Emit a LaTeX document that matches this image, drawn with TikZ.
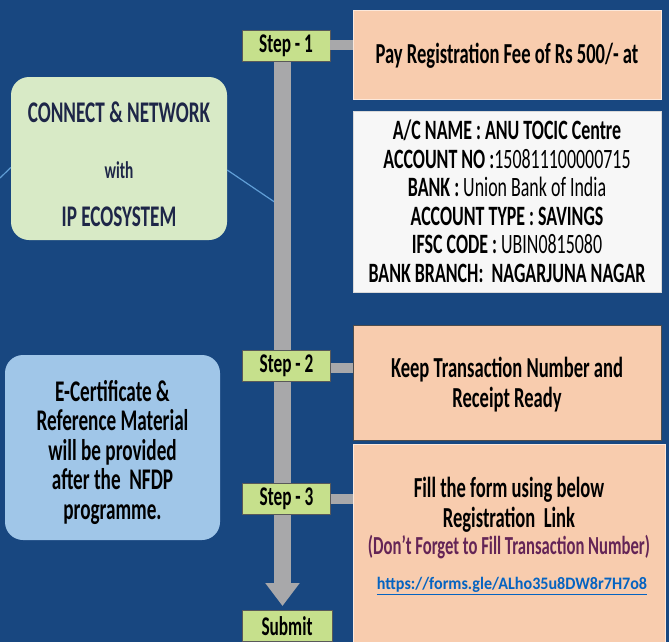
\documentclass[tikz,border=0pt]{standalone}
\usepackage{fontspec}
\setmainfont{Carlito}[FakeStretch=0.64]
\newfontfamily\linkfont{Carlito}[FakeStretch=0.92]
\usepackage{xcolor}
\usetikzlibrary{
    arrows.meta,
    positioning
}
\definecolor{bgblue}{RGB}{24,71,128}
\definecolor{stepgreen}{RGB}{198,224,140}
\definecolor{peach}{RGB}{248,204,174}
\definecolor{netgreen}{RGB}{216,234,198}
\definecolor{certblue}{RGB}{160,198,232}
\definecolor{bargray}{RGB}{168,168,170}
\definecolor{thinblue}{RGB}{96,158,214}
\definecolor{navytext}{RGB}{30,38,72}
\definecolor{notepurple}{RGB}{100,36,86}
\definecolor{linkblue}{RGB}{5,99,193}
\tikzset{stepbox/.style={draw=black!65, fill=stepgreen, minimum width=88pt, minimum height=31pt, inner sep=0pt, font=\fontsize{27}{27}\selectfont\bfseries}}
\tikzset{peachbox/.style={draw=white!55!peach, fill=peach, minimum width=308pt, inner sep=0pt, align=center}}
\tikzset{roundbox/.style={rounded corners=18pt, inner sep=0pt, align=center}}
\tikzset{stub/.style={draw=bargray, line width=10pt}}
\tikzset{thinlink/.style={draw=thinblue, line width=1.2pt}}

\begin{document}
\begin{tikzpicture}[x=1pt, y=-1pt]
                        \useasboundingbox (0,0) rectangle (669,642);
                        \clip (0,0) rectangle (669,642);
                        \fill[bgblue] (0,0) rectangle (669,642);

                        % right column
                        \node[peachbox, minimum height=89pt] (pay) at (507,54.5) {};
                        \node[font=\fontsize{29}{29}\selectfont\bfseries] (paytxt) at (507,56) {Pay Registration Fee of Rs 500/- at};
                        \node[draw=black!15, fill=white!97!black, minimum width=308pt, minimum height=181pt, inner sep=0pt, align=center,
                              font=\fontsize{28}{28.5}\selectfont] (acct) at (507,201.5)
                              {\textbf{A/C NAME : ANU TOCIC Centre}\\
                               \textbf{ACCOUNT NO :}150811100000715\\
                               \textbf{BANK :} Union Bank of India\\
                               \textbf{ACCOUNT TYPE : SAVINGS}\\
                               \textbf{IFSC CODE :} UBIN0815080\\
                               \textbf{BANK BRANCH:~ NAGARJUNA NAGAR}};
                        \node[peachbox, minimum height=216pt, minimum width=312pt] (form) at (509,552) {};
                        \node[peachbox, draw=black!70, minimum height=115pt] (keep) at (507,382.5) {};
                        \node[align=center, font=\fontsize{29}{30}\selectfont\bfseries] (keeptxt) at (507,385)
                              {Keep Transaction Number and\\ Receipt Ready};
                        \node[align=center, font=\fontsize{29}{30}\selectfont\bfseries] (formtxt) at (509,505) {Fill the form using below\\ Registration~ Link};
                        \node[text=notepurple, font=\fontsize{26}{26}\selectfont\bfseries] (note) at (509,547) {(Don't Forget to Fill Transaction Number)};
                        \node[text=linkblue, font=\fontsize{17.5}{17.5}\linkfont\bfseries] (link) at (512,586) {\underline{https://forms.gle/ALho35u8DW8r7H7o8}};

                        % left column
                        \node[roundbox, fill=netgreen, minimum width=216pt, minimum height=163pt] (net) at (119,158.5) {};
                        \node[align=center, text=navytext, font=\fontsize{30}{52}\selectfont\bfseries] (nettxt) at (119,164)
                              {CONNECT \& NETWORK\\ \raisebox{-4pt}{\fontsize{24}{24}\selectfont with}\\ IP ECOSYSTEM};
                        \node[roundbox, fill=certblue, minimum width=215pt, minimum height=185pt] (cert) at (112.5,447.5) {};
                        \node[align=center, font=\fontsize{30}{29.5}\selectfont\bfseries] (certtxt) at (112.5,452)
                              {E-Certificate \&\\ Reference Material\\ will be provided\\ after the~ NFDP\\ programme.};

                        % the spine
                        \coordinate (bartop) at (282.5,60);
                        \coordinate (bartip) at (282.5,606);
                        \coordinate (leftend) at (0,178);
                        \coordinate (barhit) at (276,203);
                        \draw[thinlink] (leftend) -- ([yshift=-9pt]net.west);
                        \draw[thinlink] ([yshift=-11.5pt]net.east) -- (barhit);
                        \draw[draw=bargray, line width=17pt, -{Triangle[width=33pt,length=23pt]}] (bartop) -- (bartip);

                        \node[stepbox] (s1) at (286,45.5) {Step - 1};
                        \node[stepbox] (s2) at (286.5,366) {Step - 2};
                        \node[stepbox] (s3) at (286.5,499) {Step - 3};
                        \node[stepbox, minimum width=90pt] (sub) at (287,626) {Submit};

                        \draw[stub] (s1.east) -- (s1.east -| pay.west);
                        \draw[stub] ([yshift=-2pt]s2.east) -- ([yshift=-2pt]s2.east -| keep.west);
                        \draw[stub] (s3.east) -- (s3.east -| form.west);
                    \end{tikzpicture}
\end{document}
